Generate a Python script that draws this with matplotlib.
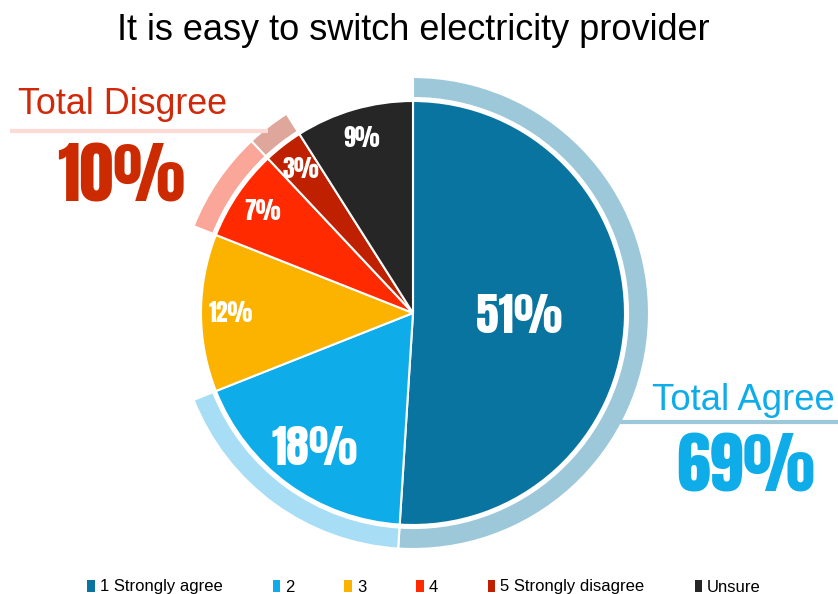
import matplotlib
matplotlib.use("Agg")
import matplotlib.pyplot as plt
import numpy as np
from matplotlib.patches import Patch

# ---- data ----
categories = ["1 Strongly agree", "2", "3", "4", "5 Strongly disagree", "Unsure"]
values = [51, 18, 12, 7, 3, 9]
slice_labels = ["51%", "18%", "12%", "7%", "3%", "9%"]
total_agree_label = "Total Agree"
total_agree_value = "69%"
total_disagree_label = "Total Disgree"
total_disagree_value = "10%"
title = "It is easy to switch electricity provider"

# ---- styles ----
colors = ["#0a74a0", "#0eadea", "#fbb300", "#ff2a00", "#bf2100", "#262626"]
ring_colors = ["#9dc8da", "#a7ddf5", None, "#faa698", "#dfa69c", None]
label_sizes = [33, 33, 17, 17, 17, 17]
label_radius = [0.50, 0.79, 0.86, 0.86, 0.86, 0.86]
num_font = ["Anton", "DejaVu Sans"]
txt_font = ["Liberation Sans", "DejaVu Sans"]

W, H = 838, 594
fig = plt.figure(figsize=(W / 100, H / 100), dpi=100)
ax = fig.add_axes([0, 0, 1, 1])

cx, cy = 413, H - 313
R = 212

wedges, _ = ax.pie(values, colors=colors, startangle=90, counterclock=False,
                   center=(cx, cy), radius=R,
                   wedgeprops=dict(edgecolor="white", linewidth=1.5))

# outer highlight ring
rc = [c if c is not None else "white" for c in ring_colors]
ring, _ = ax.pie(values, colors=rc, startangle=90, counterclock=False,
                 center=(cx, cy), radius=236,
                 wedgeprops=dict(width=21, edgecolor="white", linewidth=1.5))
for w, c in zip(ring, ring_colors):
    if c is None:
        w.set_visible(False)

# slice labels
for w, lab, fs, lr in zip(wedges, slice_labels, label_sizes, label_radius):
    ang = np.deg2rad((w.theta1 + w.theta2) / 2)
    x = cx + lr * R * np.cos(ang)
    y = cy + lr * R * np.sin(ang)
    ax.text(x, y, lab, color="white", fontsize=fs,
            family=num_font, ha="center", va="center")

# title
ax.text(413, H - 30, title, fontsize=26, family=txt_font, ha="center", va="center",
        color="black")

# total disagree annotation
ax.text(18, H - 105, total_disagree_label, fontsize=25.8, family=txt_font,
        color="#d0290a", ha="left", va="center")
ax.plot([10, 268], [H - 131, H - 131], color="#fcdad5", lw=3, solid_capstyle="butt")
ax.text(121, H - 176, total_disagree_value, fontsize=49,
        family=num_font, color="#cc2a00", ha="center", va="center")

# total agree annotation
ax.text(835, H - 400, total_agree_label, fontsize=26.3, family=txt_font,
        color="#0eadea", ha="right", va="center")
ax.plot([618, 838], [H - 422, H - 422], color="#9dc8da", lw=3, solid_capstyle="butt")
ax.text(746, H - 467, total_agree_value, fontsize=49,
        family=num_font, color="#0eadea", ha="center", va="center")

# legend
handles = [Patch(facecolor=c, edgecolor="none") for c in colors]
leg = ax.legend(handles, categories, loc="center", bbox_to_anchor=(424 / W, 7 / H),
                ncol=6, frameon=False, handlelength=0.45, handleheight=0.7,
                handletextpad=0.3, columnspacing=3.0,
                prop=dict(family=txt_font, size=12))

ax.set_xlim(0, W)
ax.set_ylim(0, H)
ax.set_aspect("equal")
ax.axis("off")
fig.savefig("out.png", dpi=100)
